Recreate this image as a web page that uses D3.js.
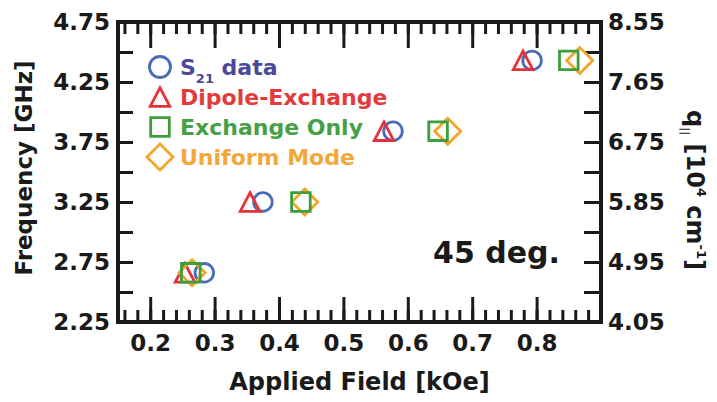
<!DOCTYPE html>
<html>
<head>
<meta charset="utf-8">
<script src="https://cdn.jsdelivr.net/npm/d3@7"></script>
<style>
body { margin: 0; background: #fff; }
svg { display: block; }
text { font-family: 'DejaVu Sans', sans-serif; font-weight: bold; fill: #1a1a1a; }
.frame { fill: none; stroke: #1a1a1a; stroke-width: 4; }
.axis path { display: none; }
.axis line { stroke: #1a1a1a; stroke-width: 3; }
.axis text { font-size: 23px; }
.mark { fill: none; stroke-width: 2.8; }
</style>
</head>
<body>
<svg width="717" height="402"></svg>
<script>
// data
var freq = [2.66, 3.25, 3.84, 4.43];
var s21Field = [0.284, 0.375, 0.577, 0.793];
var dipoleField = [0.254, 0.355, 0.563, 0.779];
var exchangeField = [0.263, 0.434, 0.647, 0.850];
var uniformField = [0.265, 0.440, 0.662, 0.867];

var xMajorTicks = [0.2, 0.3, 0.4, 0.5, 0.6, 0.7, 0.8];
var xMinorTicks = d3.range(8, 45).map(function(i){ return i / 50; });
var yLeftTicks = [2.25, 2.5, 2.75, 3.0, 3.25, 3.5, 3.75, 4.0, 4.25, 4.5, 4.75];
var yLeftLabels = [2.25, 2.75, 3.25, 3.75, 4.25, 4.75];
var yRightTicks = [4.05, 4.5, 4.95, 5.4, 5.85, 6.3, 6.75, 7.2, 7.65, 8.1, 8.55];
var yRightLabels = [4.05, 4.95, 5.85, 6.75, 7.65, 8.55];

var seriesNames = ['S21 data', 'Dipole-Exchange', 'Exchange Only', 'Uniform Mode'];
var seriesShapes = ['circle', 'triangle', 'square', 'diamond'];
var markColors = ['#4a6cb8', '#e5323a', '#3c9e3c', '#f2a52a'];
var textColors = ['#4b4a98', '#e33a3c', '#46a046', '#f2a83a'];

var plot = { left: 118, right: 601, top: 22, bottom: 322 };
var svg = d3.select('svg');

var x = d3.scaleLinear().domain([0.15, 0.9]).range([plot.left, plot.right]);
var yL = d3.scaleLinear().domain([2.25, 4.75]).range([plot.bottom, plot.top]);
var yR = d3.scaleLinear().domain([4.05, 8.55]).range([plot.bottom, plot.top]);

function hasLabel(list){
	return function(d){
		var hit = list.some(function(v){ return Math.abs(v - d) < 1e-6; });
		return hit ? d3.format('.2f')(d) : '';
	};
}

function addAxis(axis, tx, ty){
	return svg.append('g')
		.attr('class', 'axis')
		.attr('transform', 'translate(' + tx + ',' + ty + ')')
		.call(axis);
}

// ticks point into the plot
addAxis(d3.axisBottom(x).tickValues(xMinorTicks).tickSize(-12).tickFormat(''), 0, plot.bottom);
addAxis(d3.axisBottom(x).tickValues(xMajorTicks).tickSize(-25).tickPadding(13).tickFormat(d3.format('.1f')), 0, plot.bottom);
addAxis(d3.axisTop(x).tickValues(xMinorTicks).tickSize(-12).tickFormat(''), 0, plot.top);
addAxis(d3.axisTop(x).tickValues(xMajorTicks).tickSize(-26).tickFormat(''), 0, plot.top);
addAxis(d3.axisLeft(yL).tickValues(yLeftTicks).tickSize(-15).tickPadding(8).tickFormat(hasLabel(yLeftLabels)), plot.left, 0);
addAxis(d3.axisRight(yR).tickValues(yRightTicks).tickSize(-17).tickPadding(7).tickFormat(hasLabel(yRightLabels)), plot.right, 0);

svg.append('rect')
	.attr('class', 'frame')
	.attr('x', plot.left)
	.attr('y', plot.top)
	.attr('width', plot.right - plot.left)
	.attr('height', plot.bottom - plot.top);

function shapePath(shape, s){
	if(shape == 'circle'){
		var p = d3.path();
		p.arc(0, 0, s, 0, 2 * Math.PI);
		p.closePath();
		return p.toString();
	}
	if(shape == 'triangle') return 'M0,' + (-s) + 'L' + (s * 1.05) + ',' + s + 'L' + (-s * 1.05) + ',' + s + 'Z';
	if(shape == 'square') return 'M' + (-s) + ',' + (-s) + 'H' + s + 'V' + s + 'H' + (-s) + 'Z';
	var r = s * 1.4;
	return 'M0,' + (-r) + 'L' + r + ',0L0,' + r + 'L' + (-r) + ',0Z';
}

// markers
var fields = [s21Field, dipoleField, exchangeField, uniformField];
var marks = svg.append('g').attr('class', 'marks');
[0, 1, 3, 2].forEach(function(si){
	marks.selectAll('.s' + si)
		.data(fields[si].map(function(f, i){ return { f: f, v: freq[i] }; }))
		.enter().append('path')
		.attr('class', 'mark s' + si)
		.attr('d', shapePath(seriesShapes[si], 9.3))
		.attr('stroke', markColors[si])
		.attr('transform', function(d){ return 'translate(' + x(d.f) + ',' + yL(d.v) + ')'; });
});

// legend
var legend = svg.append('g').attr('class', 'legend');
var legendY = [67, 97, 127, 157];
seriesNames.forEach(function(name, i){
	legend.append('path')
		.attr('class', 'mark')
		.attr('d', shapePath(seriesShapes[i], i == 0 ? 10.5 : 9.3))
		.attr('stroke', markColors[i])
		.attr('transform', 'translate(160,' + legendY[i] + ')');
	var t = legend.append('text')
		.attr('x', 180)
		.attr('y', legendY[i] + 8)
		.style('font-size', '22px')
		.style('fill', textColors[i]);
	if(i == 0){
		t.append('tspan').text('S');
		t.append('tspan').attr('dy', 8).style('font-size', '13px').text('21');
		t.append('tspan').attr('dy', -8).text(' data');
	} else {
		t.text(name);
	}
});

svg.append('text')
	.attr('x', 560)
	.attr('y', 263)
	.attr('text-anchor', 'end')
	.style('font-size', '30px')
	.text('45 deg.');

svg.append('text')
	.attr('x', (plot.left + plot.right) / 2)
	.attr('y', 390)
	.attr('text-anchor', 'middle')
	.style('font-size', '24px')
	.text('Applied Field [kOe]');

svg.append('text')
	.attr('transform', 'translate(32,168) rotate(-90)')
	.attr('text-anchor', 'middle')
	.style('font-size', '23px')
	.text('Frequency [GHz]');

var qt = svg.append('text')
	.attr('transform', 'translate(687,190) rotate(90)')
	.attr('text-anchor', 'middle')
	.style('font-size', '24px');
qt.append('tspan').text('q');
qt.append('tspan').attr('dy', 5).style('font-size', '11px').text('||');
qt.append('tspan').attr('dy', -5).text(' [10');
qt.append('tspan').attr('dy', -10).style('font-size', '13px').text('4');
qt.append('tspan').attr('dy', 10).text(' cm');
qt.append('tspan').attr('dy', -10).style('font-size', '13px').text('-1');
qt.append('tspan').attr('dy', 10).text(']');
</script>
</body>
</html>
